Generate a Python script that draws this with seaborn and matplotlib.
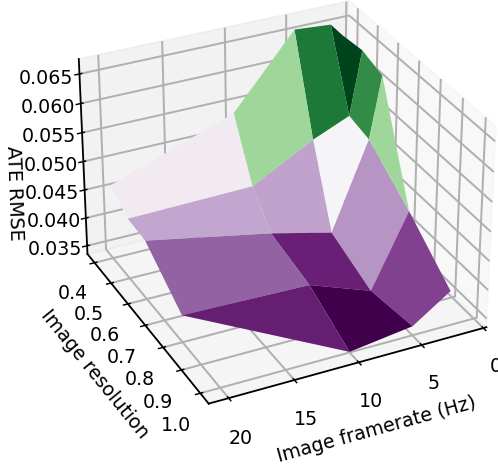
import numpy as np
import matplotlib
matplotlib.use("Agg")
import matplotlib.pyplot as plt
import seaborn as sns

# not every framerate/resolution pair was sampled, missing corners repeat the nearest sample
FRAMERATES_LOW_RES = [20, 10, 5, 2, 1]
FRAMERATES_HIGH_RES = [20, 10, 5, 2, 2]
RESOLUTION_ROWS = [
    [0.4, 0.4, 0.4, 0.4, 0.4],
    [0.5, 0.5, 0.5, 0.5, 0.5],
    [0.6, 0.6, 0.6, 0.6, 0.6],
    [0.8, 0.8, 0.8, 0.8, 0.8],
    [0.8, 1.0, 1.0, 1.0, 1.0],
]
RMSE_04 = [0.0465, 0.0541, 0.0662, 0.0657, 0.0634]
RMSE_05 = [0.0441, 0.0445, 0.0502, 0.0529, 0.0638]
RMSE_06 = [0.0438, 0.0396, 0.0370, 0.0520, 0.0625]
RMSE_08 = [0.0382, 0.0377, 0.0338, 0.0462, 0.0462]
RMSE_10 = [0.0382, 0.0336, 0.0351, 0.0395, 0.0395]

X_TICKS = [0, 5, 10, 15, 20]
Y_TICKS = [0.4, 0.5, 0.6, 0.7, 0.8, 0.9, 1.0]
Z_TICKS = [0.035, 0.040, 0.045, 0.050, 0.055, 0.060, 0.065]

X = np.array([FRAMERATES_LOW_RES, FRAMERATES_LOW_RES, FRAMERATES_LOW_RES,
              FRAMERATES_HIGH_RES, FRAMERATES_HIGH_RES], dtype=float)
Y = np.array(RESOLUTION_ROWS)
Z = np.array([RMSE_04, RMSE_05, RMSE_06, RMSE_08, RMSE_10])

plt.rcParams["grid.linewidth"] = 1.1
plt.rcParams["axes.linewidth"] = 1.0

fig = plt.figure(figsize=(4.98 / 1.3, 4.69 / 1.3), dpi=130)
ax = fig.add_axes([0.054, 0.07, 1.0, 1.01], projection="3d")
surf = ax.plot_surface(X, Y, Z, cmap=sns.color_palette("PRGn", as_cmap=True), linewidth=0, antialiased=True)

# the sliver next to the missing 1 Hz samples takes the colour of the 0.4-0.5 band
cell_values = np.array(surf.get_array())
cell_values[11] = cell_values[1]
surf.set_array(cell_values)

ax.view_init(elev=30, azim=64)
ax.set_xlim(-0.25, 21.5)
ax.set_zlim(0.0335, 0.0675)
ax.set_xlabel("Image framerate (Hz)", fontsize=10.5)
ax.set_ylabel("Image resolution", fontsize=10.5)
ax.set_xticks(X_TICKS)
ax.set_yticks(Y_TICKS)
ax.set_zticks(Z_TICKS)
ax.tick_params(labelsize=10.5)
ax.text2D(14 / 498, 1 - 193 / 469, "ATE RMSE", transform=fig.transFigure, fontsize=10.5,
          rotation=-88, ha="center", va="center")
fig.savefig("out.png", dpi=130)
